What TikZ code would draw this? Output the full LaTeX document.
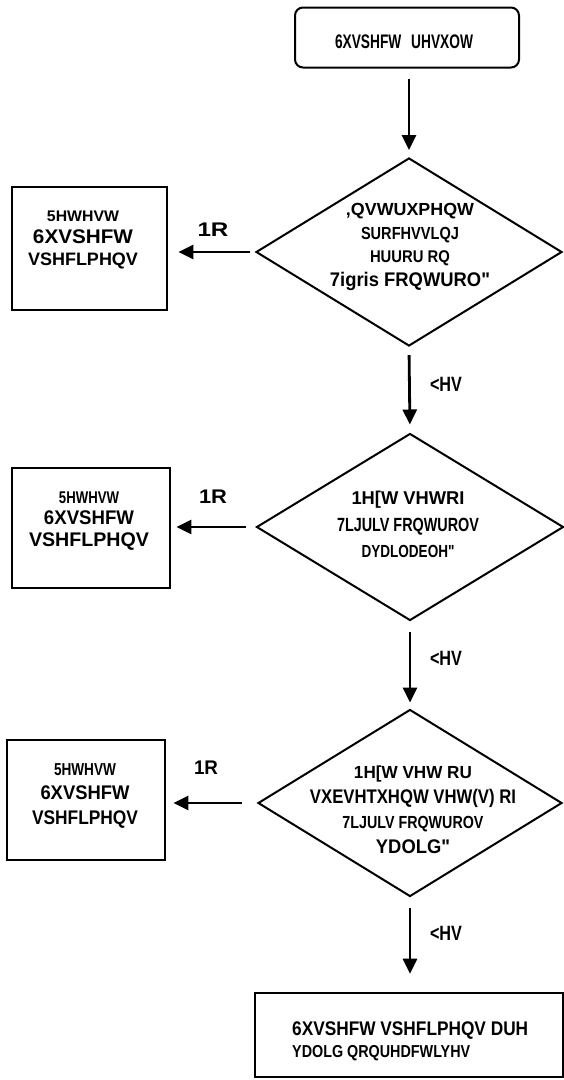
\documentclass[tikz,border=0pt]{standalone}
\usepackage{fontspec}
\usepackage{graphicx}
\setmainfont{Liberation Sans}[Ligatures=TeXOff]
\usetikzlibrary{arrows.meta,shapes.geometric}
\newcommand{\fz}[2]{\fontsize{#1}{#2}\selectfont}
% #1 target width (pt), #2 nominal size (pt), #3 text
\newcommand{\Lx}[3]{{\pgfmathsetmacro\Lsz{#2*1.06}\fontsize{\Lsz}{\Lsz}\selectfont\resizebox{#1pt}{\height}{#3}}}
\begin{document}
\begin{tikzpicture}[x=1pt,y=-1pt,
  rbox/.style={draw, line width=2pt, rounded corners=8pt, inner sep=0pt},
  sidebox/.style={draw, line width=2.8pt, inner sep=0pt},
  endbox/.style={draw, line width=2.6pt, inner sep=0pt},
  dia/.style={draw, diamond, line width=2pt, inner sep=0pt},
  txt/.style={font=\bfseries, align=center, inner sep=0pt},
  lab/.style={font=\bfseries, inner sep=0pt},
  arr/.style={line width=2.8pt, -{Triangle[length=15pt,width=14pt]}}]
\useasboundingbox (0,0) rectangle (564,1080);
\fill[white] (0,0) rectangle (564,1080);

% shapes
\node[rbox, minimum width=224pt, minimum height=60pt] (start) at (407,37.5) {};
\node[dia, minimum width=306pt, minimum height=188pt] (d1) at (409,252) {};
\node[sidebox, minimum width=155pt, minimum height=123pt] (l1) at (89.5,248.5) {};
\node[dia, minimum width=307pt, minimum height=187pt] (d2) at (410,527) {};
\node[sidebox, minimum width=158pt, minimum height=120pt] (l2) at (91,528) {};
\node[dia, minimum width=304pt, minimum height=187pt] (d3) at (410,803) {};
\node[sidebox, minimum width=158pt, minimum height=120pt] (l3) at (86,800) {};
\node[endbox, minimum width=308pt, minimum height=84pt] (end) at (409,1035) {};

% texts
\node[txt] (startt) at (404,41.5) {\Lx{138}{18.5}{6XVSHFW\hspace{14pt}UHVXOW}};
\node[txt, font=\bfseries\fz{16}{23.5}] (d1t) at (410,247)
  {\Lx{128}{16.5}{,QVWUXPHQW}\\ \Lx{98}{16.5}{SURFHVVLQJ}\\ \Lx{80}{16}{HUURU RQ}\\ \Lx{160}{18.6}{7igris FRQWURO"}};
\node[txt, font=\bfseries\fz{16}{22}] (l1t) at (83,240)
  {\Lx{72}{14.5}{5HWHVW}\\ \Lx{100}{18.6}{6XVSHFW}\\ \Lx{110}{17}{VSHFLPHQV}};
\node[txt, font=\bfseries\fz{16}{26.5}] (d2t) at (408,524.5)
  {\Lx{113}{17.5}{1H[W VHWRI}\\ \Lx{142}{18}{7LJULV FRQWUROV}\\ \Lx{93}{16.5}{DYDLODEOH"}};
\node[txt, font=\bfseries\fz{16}{21.5}] (l2t) at (89,521)
  {\Lx{60}{16}{5HWHVW}\\ \Lx{90}{18.6}{6XVSHFW}\\ \Lx{120}{18.6}{VSHFLPHQV}};
\node[txt, font=\bfseries\fz{16}{25}] (d3t) at (413,809.5)
  {\Lx{118}{16.5}{1H[W VHW RU}\\ \Lx{206}{18.6}{VXEVHTXHQW VHW(V) RI}\\ \Lx{141}{16.5}{7LJULV FRQWUROV}\\ \Lx{74}{18.6}{YDOLG"}};
\node[txt, font=\bfseries\fz{16}{24.5}] (l3t) at (85,795.5)
  {\Lx{62}{16.3}{5HWHVW}\\ \Lx{89}{18.6}{6XVSHFW}\\ \Lx{106}{18.6}{VSHFLPHQV}};
\node[txt, align=left, anchor=west, font=\bfseries\fz{16}{22}] (endt) at (292,1041)
  {\Lx{236}{18.6}{6XVSHFW VSHFLPHQV DUH}\\ \Lx{178}{16.3}{YDOLG QRQUHDFWLYHV}};

% labels
\node[lab] (no1) at (213,230) {\Lx{31}{18.6}{1R}};
\node[lab] (no2) at (213,497) {\Lx{28}{18.6}{1R}};
\node[lab] (no3) at (206,768) {\Lx{24}{18.6}{1R}};
\node[lab] (yes1) at (446,384) {\Lx{32}{19.5}{<HV}};
\node[lab] (yes2) at (446,658) {\Lx{32}{19.5}{<HV}};
\node[lab] (yes3) at (446,933) {\Lx{32}{19.5}{<HV}};

% connectors
\draw[arr, shorten <=10pt, shorten >=7pt] (d1.north |- start.south) -- (d1.north);
\draw[arr, shorten <=8pt, shorten >=8pt] (d1.south) -- (d2.north);
\draw[arr, shorten <=10pt, shorten >=6pt] (d2.south) -- (d3.north);
\draw[arr, shorten <=10pt, shorten >=18pt] (d3.south) -- (d3.south |- end.north);
\draw[arr, shorten <=5pt, shorten >=10pt] (d1.west) -- (d1.west -| l1.east);
\draw[arr, shorten <=10pt, shorten >=5pt] (d2.west) -- (d2.west -| l2.east);
\draw[arr, shorten <=15pt, shorten >=7pt] (d3.west) -- (d3.west -| l3.east);
\end{tikzpicture}
\end{document}
